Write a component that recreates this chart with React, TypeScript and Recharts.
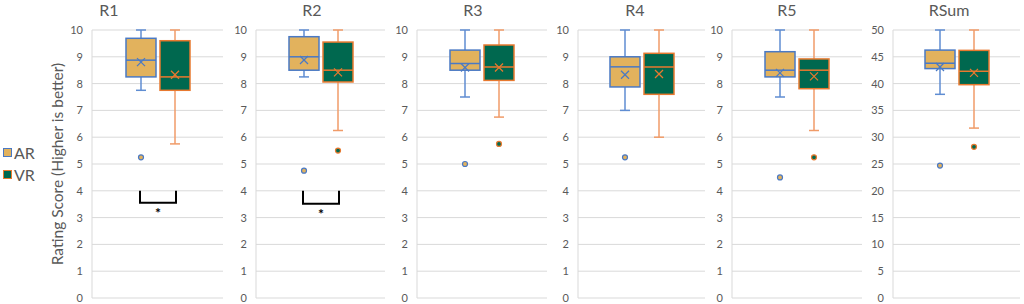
import React from 'react';
import { BarChart, Bar, XAxis, YAxis, CartesianGrid, Legend } from 'recharts';

// ---------- data ----------
const panelNames = ['R1', 'R2', 'R3', 'R4', 'R5', 'RSum'];
const seriesNames = ['AR', 'VR'];

const ticks10 = [0, 1, 2, 3, 4, 5, 6, 7, 8, 9, 10];
const ticks50 = [0, 5, 10, 15, 20, 25, 30, 35, 40, 45, 50];

const arMin = [7.75, 8.25, 7.5, 7.0, 7.5, 38.0];
const arQ1 = [8.25, 8.5, 8.5, 7.875, 8.25, 42.8];
const arMedian = [8.875, 9.0, 8.75, 8.625, 8.5, 43.8];
const arQ3 = [9.69, 9.75, 9.25, 9.0, 9.19, 46.25];
const arMax = [10, 10, 10, 10, 10, 50];
const arMean = [8.8, 8.88, 8.6, 8.33, 8.4, 43.1];
const arOutliers = [[5.25], [4.75], [5.0], [5.25], [4.5], [24.7]];

const vrMin = [5.75, 6.25, 6.75, 6.0, 6.25, 31.7];
const vrQ1 = [7.75, 8.06, 8.12, 7.6, 7.81, 39.8];
const vrMedian = [8.25, 8.5, 8.62, 8.62, 8.5, 42.3];
const vrQ3 = [9.6, 9.55, 9.44, 9.13, 8.92, 46.2];
const vrMax = [10, 10, 10, 10, 10, 50];
const vrMean = [8.33, 8.42, 8.6, 8.36, 8.27, 42.0];
const vrOutliers = [[], [5.5], [5.75], [], [5.25], [28.2]];

// significance bracket (top of legs, bar level, star position)
const sigTop = [4.0, 4.0, null, null, null, null];
const sigBar = [3.55, 3.52, null, null, null, null];
const sigStar = [3.25, 3.2, null, null, null, null];
const sigLabel = ['*', '*', '', '', '', ''];

const yAxisTitle = 'Rating Score (Higher is better)';

// ---------- layout / style ----------
const FONT = "Lato, Carlito, 'Open Sans', sans-serif";
const plotLeft = [92, 256, 417, 578, 732, 893];
const plotRight = [223, 385, 547, 705, 862, 1020];
const titleCenter = [109, 312, 473, 635, 787, 949];
const BAR_SIZE = 30;
const BAR_GAP = 4;
const PLOT_TOP = 30;
const PLOT_BOTTOM_MARGIN = 6;
const H = 304;

const styles: Record<string, any> = {
  AR: {
    fill: '#E2B25D',
    stroke: '#4A79C4',
    whisker: '#5F8DD2',
    median: '#4A79C4',
    mean: '#4A79C4',
    outFill: '#E2B25D',
    outStroke: '#4A79C4',
  },
  VR: {
    fill: '#00684F',
    stroke: '#E8792F',
    whisker: '#F09B68',
    median: '#E8792F',
    mean: '#E8792F',
    outFill: '#00684F',
    outStroke: '#E8792F',
  },
};

const buildRow = (i: number) => ({
  name: panelNames[i],
  AR: {
    min: arMin[i], q1: arQ1[i], median: arMedian[i], q3: arQ3[i], max: arMax[i],
    mean: arMean[i], outliers: arOutliers[i],
  },
  VR: {
    min: vrMin[i], q1: vrQ1[i], median: vrMedian[i], q3: vrQ3[i], max: vrMax[i],
    mean: vrMean[i], outliers: vrOutliers[i],
  },
  sig: sigTop[i] == null ? null : { top: sigTop[i], bar: sigBar[i], star: sigStar[i], label: sigLabel[i] },
});

const makeBoxShape = (series: string) => (props: any) => {
  const { x, y, width, height, payload } = props;
  const d = payload[series];
  if (!d) return null;
  const st = styles[series];
  const top = Math.min(y, y + height);
  const bot = Math.max(y, y + height);
  const k = (bot - top) / (d.max - d.min);
  const py = (v: number) => bot - (v - d.min) * k;
  const cx = x + width / 2;
  const cap = 5;
  const m = 4;
  const yq1 = py(d.q1);
  const yq3 = py(d.q3);
  const ymed = py(d.median);
  const ymean = py(d.mean);
  const sig = payload.sig;
  return (
    <g>
      <line x1={cx} x2={cx} y1={py(d.max)} y2={yq3} stroke={st.whisker} strokeWidth={1.5} />
      <line x1={cx} x2={cx} y1={yq1} y2={py(d.min)} stroke={st.whisker} strokeWidth={1.5} />
      <line x1={cx - cap} x2={cx + cap} y1={py(d.max)} y2={py(d.max)} stroke={st.whisker} strokeWidth={1.5} />
      <line x1={cx - cap} x2={cx + cap} y1={py(d.min)} y2={py(d.min)} stroke={st.whisker} strokeWidth={1.5} />
      <rect x={x} y={yq3} width={width} height={yq1 - yq3} fill={st.fill} stroke={st.stroke} strokeWidth={1.5} />
      <line x1={x} x2={x + width} y1={ymed} y2={ymed} stroke={st.median} strokeWidth={1.5} />
      <line x1={cx - m} x2={cx + m} y1={ymean - m} y2={ymean + m} stroke={st.mean} strokeWidth={1.3} />
      <line x1={cx - m} x2={cx + m} y1={ymean + m} y2={ymean - m} stroke={st.mean} strokeWidth={1.3} />
      {d.outliers.map((o: number, j: number) => (
        <circle key={j} cx={cx} cy={py(o)} r={2.5} fill={st.outFill} stroke={st.outStroke} strokeWidth={1.2} />
      ))}
      {series === 'AR' && sig ? (
        <g>
          <path
            d={`M${cx - 1},${py(sig.top)} V${py(sig.bar)} H${cx + width + BAR_GAP + 1} V${py(sig.top)}`}
            fill="none"
            stroke="#000"
            strokeWidth={2}
          />
          <text
            x={cx + (width + BAR_GAP) / 2}
            y={py(sig.star) + 7}
            textAnchor="middle"
            fontSize={14}
            fontWeight="bold"
            fill="#000"
            fontFamily={FONT}
          >
            {sig.label}
          </text>
        </g>
      ) : null}
    </g>
  );
};

const LegendContent = (props: any) => {
  const items = props.payload && props.payload.length ? props.payload.map((p: any) => p.value) : seriesNames;
  return (
    <div style={{ fontFamily: FONT, fontSize: 16, color: '#595959' }}>
      {items.map((name: string) => (
        <div key={name} style={{ display: 'flex', alignItems: 'center', height: 22 }}>
          <span
            style={{
              display: 'inline-block',
              boxSizing: 'border-box',
              width: 9,
              height: 9,
              background: styles[name].fill,
              border: `1px solid ${styles[name].stroke}`,
              marginRight: 2,
            }}
          />
          <span>{name}</span>
        </div>
      ))}
    </div>
  );
};

const AxisTitle = (props: any) => {
  const vb = props.viewBox || {};
  const cx = vb.x + 57;
  const cy = vb.y + vb.height / 2;
  return (
    <text
      x={cx}
      y={cy}
      transform={`rotate(-90, ${cx}, ${cy})`}
      textAnchor="middle"
      dominantBaseline="central"
      fontFamily={FONT}
      fontSize={15.5}
      fill="#595959"
    >
      {yAxisTitle}
    </text>
  );
};

const Panel = ({ i }: { i: number }) => {
  const first = i === 0;
  const axisW = first ? plotLeft[0] : 30;
  const left = plotLeft[i] - axisW;
  const width = plotRight[i] - left;
  const yMax = i === 5 ? 50 : 10;
  const ticks = i === 5 ? ticks50 : ticks10;
  const data = [buildRow(i)];
  return (
    <div style={{ position: 'absolute', left, top: 0, width, height: H }}>
      <BarChart
        width={width}
        height={H}
        data={data}
        margin={{ top: PLOT_TOP, right: 0, bottom: PLOT_BOTTOM_MARGIN, left: 0 }}
        barSize={BAR_SIZE}
        barGap={BAR_GAP}
      >
        <CartesianGrid vertical={false} stroke="#d9d9d9" strokeWidth={1} />
        <XAxis dataKey="name" hide />
        <YAxis
          width={axisW}
          domain={[0, yMax]}
          ticks={ticks}
          interval={0}
          tickLine={false}
          tickMargin={3}
          axisLine={{ stroke: '#d9d9d9' }}
          tick={{ fill: '#595959', fontSize: 11, fontFamily: FONT }}
          label={first ? { content: AxisTitle } : undefined}
        />
        {first ? (
          <Legend
            layout="horizontal"
            align="center"
            verticalAlign="middle"
            width={50}
            wrapperStyle={{ position: 'absolute', left: 3, top: 141, width: 50 }}
            content={LegendContent}
          />
        ) : null}
        {seriesNames.map((s) => (
          <Bar
            key={s}
            name={s}
            dataKey={(row: any) => [row[s].min, row[s].max]}
            fill={styles[s].fill}
            stroke={styles[s].stroke}
            shape={makeBoxShape(s)}
            isAnimationActive={false}
          />
        ))}
      </BarChart>
    </div>
  );
};

export default function App() {
  return (
    <div
      style={{
        position: 'absolute',
        left: 0,
        top: 0,
        width: 1024,
        height: H,
        background: '#fff',
        overflow: 'hidden',
      }}
    >
      {panelNames.map((_, i) => (
        <Panel key={i} i={i} />
      ))}
      <svg
        width={1024}
        height={28}
        style={{ position: 'absolute', left: 0, top: 0, pointerEvents: 'none' }}
      >
        {panelNames.map((n, i) => (
          <text
            key={n}
            x={titleCenter[i]}
            y={16}
            textAnchor="middle"
            fontFamily={FONT}
            fontSize={16}
            fill="#595959"
          >
            {n}
          </text>
        ))}
      </svg>
    </div>
  );
}
